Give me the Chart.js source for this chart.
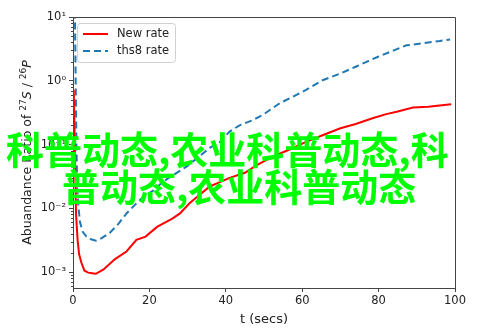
<!DOCTYPE html>
<html>
<head>
<meta charset="utf-8">
<script src="https://cdn.jsdelivr.net/npm/chart.js@4.4.1/dist/chart.umd.min.js"></script>
<style>
  html, body { margin: 0; padding: 0; background: #fff; }
  #wrap { width: 493px; height: 329px; position: relative; }
</style>
</head>
<body>
<div id="wrap"><canvas id="myChart" width="493" height="329"></canvas></div>
<script>
// New rate (solid red)
const newT = [0.2, 0.5, 0.8, 1.2, 1.6, 2.2, 3, 4, 5, 6, 8, 11, 14, 16.6, 19, 22, 26, 28, 30.5, 33, 35.8, 38, 41, 45, 48, 52.4, 57, 61, 66, 70, 74, 78.6, 82, 85, 89, 93, 96, 99];
const newRate = [0.72, 0.08, 0.008, 0.0032, 0.0019, 0.0014, 0.00105, 0.00098, 0.00096, 0.00094, 0.0011, 0.0016, 0.0021, 0.0032, 0.0036, 0.0051, 0.0069, 0.0083, 0.012, 0.016, 0.022, 0.025, 0.030, 0.036, 0.047, 0.065, 0.085, 0.11, 0.145, 0.18, 0.21, 0.26, 0.30, 0.33, 0.38, 0.39, 0.41, 0.43];

// ths8 rate (dashed blue)
const thsT = [0.3, 0.5, 0.7, 0.9, 1.1, 1.4, 1.8, 2.5, 3.5, 4.5, 6, 7.5, 9.6, 12, 14, 16, 18.3, 21, 23.5, 26.5, 29.7, 33, 36, 38.5, 41, 43.6, 47, 50, 54, 58, 61, 65.5, 70, 74, 77, 80, 84, 87.3, 89, 92.5, 96, 98.7];
const thsRate = [40, 12, 1.0, 0.1, 0.02, 0.011, 0.0062, 0.0043, 0.0036, 0.0033, 0.0031, 0.0034, 0.0041, 0.0058, 0.0083, 0.011, 0.015, 0.019, 0.026, 0.034, 0.045, 0.065, 0.09, 0.11, 0.16, 0.20, 0.24, 0.30, 0.44, 0.58, 0.72, 1.03, 1.3, 1.66, 2.0, 2.4, 3.0, 3.6, 3.7, 3.95, 4.2, 4.45];

const xTicks = [0, 20, 40, 60, 80, 100];
const yTicks = [1e-3, 1e-2, 1e-1, 1, 10];
const yTickLabels = ['10\u207B\u00B3', '10\u207B\u00B2', '10\u207B\u00B9', '10\u2070', '10\u00B9'];
const seriesNames = ['New rate', 'ths8 rate'];
const watermark = ['科普动态,农业科普动态,科', '普动态,农业科普动态'];

// y title pieces: [text, style]  (n = normal, s = superscript, i = italic)
const yTitle = [['Abuandance Ratio of ', 'n'], ['27', 's'], ['S', 'i'], [' / ', 'n'], ['26', 's'], ['P', 'i']];

const pts = (xs, ys) => xs.map((x, i) => ({ x: x, y: ys[i] }));
const yMin = Math.pow(10, -3.25);
const axisColor = '#444';
const font = 'DejaVu Sans';

function pieceFont(st) {
  if (st === 's') return '9px ' + font;
  if (st === 'i') return 'oblique 12.5px ' + font;
  return '12.5px ' + font;
}

// top/right spines, minor log ticks, y title, legend box and overlay text
const extras = {
  id: 'extras',
  afterDraw(chart) {
    const c = chart.ctx;
    const a = chart.chartArea;
    const y = chart.scales.y;
    c.save();
    c.strokeStyle = axisColor;
    c.lineWidth = 1;
    c.beginPath();
    c.moveTo(a.left, a.top + 0.5); c.lineTo(a.right + 0.5, a.top + 0.5);
    c.lineTo(a.right + 0.5, a.bottom);
    c.stroke();

    // minor ticks 2..9 x 10^k
    c.beginPath();
    for (let k = -4; k <= 1; k++) {
      for (let m = 2; m <= 9; m++) {
        const v = m * Math.pow(10, k);
        if (v < yMin || v > 10) continue;
        const py = Math.round(y.getPixelForValue(v)) + 0.5;
        c.moveTo(a.left - 2, py); c.lineTo(a.left, py);
      }
    }
    c.stroke();

    // y axis title, rotated
    c.save();
    c.translate(28, (a.top + a.bottom) / 2);
    c.rotate(-Math.PI / 2);
    c.fillStyle = '#222';
    c.textBaseline = 'middle';
    let total = 0;
    yTitle.forEach(p => { c.font = pieceFont(p[1]); total += c.measureText(p[0]).width; });
    let px = -total / 2;
    yTitle.forEach(p => {
      c.font = pieceFont(p[1]);
      c.fillText(p[0], px, p[1] === 's' ? -4 : 0);
      px += c.measureText(p[0]).width;
    });
    c.restore();

    // legend
    const lx = 77, ly = 23, lw = 98, lh = 39;
    c.fillStyle = 'rgba(255,255,255,0.85)';
    c.strokeStyle = '#d0d0d0';
    c.lineWidth = 1;
    c.beginPath();
    c.roundRect(lx + 0.5, ly + 0.5, lw, lh, 3);
    c.fill(); c.stroke();
    const ds = chart.data.datasets;
    c.font = '11.5px ' + font;
    c.textBaseline = 'middle';
    ds.forEach((d, i) => {
      const ry = ly + 11 + i * 17;
      c.strokeStyle = d.borderColor;
      c.lineWidth = 2;
      c.setLineDash(d.borderDash || []);
      c.beginPath(); c.moveTo(lx + 6, ry); c.lineTo(lx + 31, ry); c.stroke();
      c.setLineDash([]);
      c.fillStyle = '#222';
      c.fillText(d.label, lx + 40, ry);
    });

    // overlay text
    c.font = 'bold 38px "Noto Sans CJK SC"';
    c.fillStyle = '#00ff00';
    c.textBaseline = 'middle';
    c.fillText(watermark[0], 6, 150);
    c.fillText(watermark[1], 62, 187);
    c.restore();
  }
};

Chart.defaults.font.family = font;
Chart.defaults.color = '#222';
Chart.defaults.animation = false;

var ctx = document.getElementById('myChart');
var myChart = new Chart(ctx, {
  type: 'line',
  data: {
    datasets: [{
      label: seriesNames[0],
      data: pts(newT, newRate),
      borderColor: '#ff0000',
      borderWidth: 2,
      pointRadius: 0,
      tension: 0
    }, {
      label: seriesNames[1],
      data: pts(thsT, thsRate),
      borderColor: '#1f77b4',
      borderWidth: 2,
      borderDash: [7, 4],
      pointRadius: 0,
      tension: 0
    }]
  },
  options: {
    responsive: false,
    layout: { padding: { top: 17, right: 38, left: 0, bottom: 0 } },
    plugins: { legend: { display: false }, tooltip: { enabled: false } },
    scales: {
      x: {
        type: 'linear',
        min: 0, max: 100,
        afterBuildTicks: s => { s.ticks = xTicks.map(v => ({ value: v })); },
        afterFit: s => { s.height = 41; },
        ticks: { font: { size: 11.5 }, padding: 2, maxRotation: 0 },
        grid: { drawOnChartArea: false, tickLength: 4, color: axisColor },
        border: { color: axisColor },
        title: { display: true, text: 't (secs)', font: { size: 13 }, padding: { top: 0, bottom: 2 } }
      },
      y: {
        type: 'logarithmic',
        min: yMin, max: 10,
        afterBuildTicks: s => { s.ticks = yTicks.map(v => ({ value: v })); },
        afterFit: s => { s.width = 73; },
        ticks: {
          font: { size: 11.5 },
          padding: 3,
          callback: v => yTickLabels[yTicks.indexOf(v)]
        },
        grid: { drawOnChartArea: false, tickLength: 4, color: axisColor },
        border: { color: axisColor }
      }
    }
  },
  plugins: [extras]
});
</script>
</body>
</html>
